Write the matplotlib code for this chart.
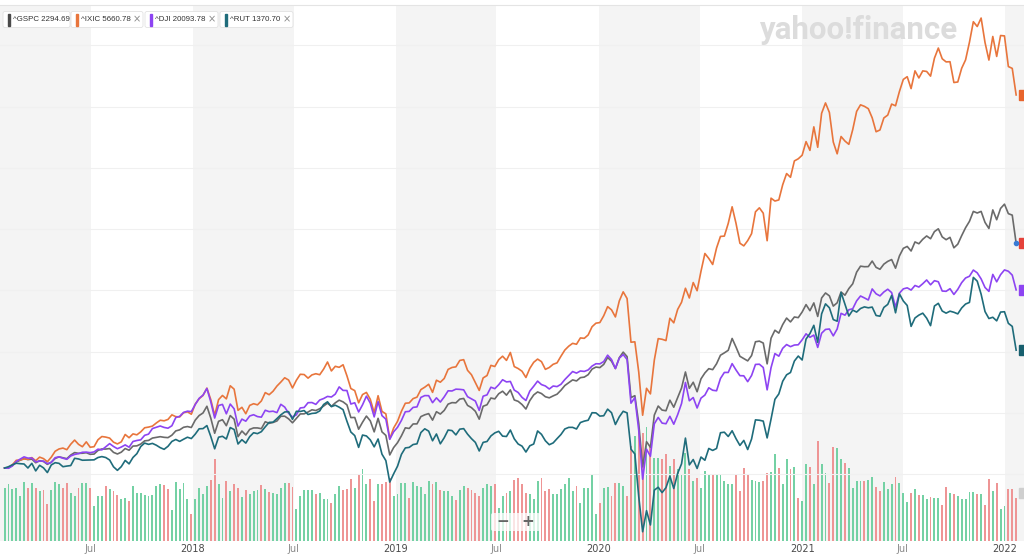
import numpy as np
import pandas as pd
import matplotlib.pyplot as plt
import matplotlib.dates as mdates
import matplotlib.transforms as mtransforms
from matplotlib.patches import FancyBboxPatch, Rectangle

# weekly closes, Jan 27 2017 .. Jan 21 2022
dates = pd.date_range('2017-01-27', periods=261, freq='7D')

gspc = [2294.69, 2297, 2316, 2351, 2367, 2383, 2373, 2378, 2344, 2363, 2356, 2329, 2349, 2384, 2399, 2391, 2382, 2416, 2439, 2432, 2433, 2438, 2423, 2425, 2459, 2473, 2472, 2477, 2441, 2426, 2443, 2477, 2461, 2500, 2502, 2519, 2549, 2553, 2575, 2581, 2588, 2582, 2579, 2602, 2642, 2652, 2676, 2683, 2674,
        2743, 2786, 2810, 2873, 2762, 2620, 2732, 2747, 2691, 2786, 2752, 2588, 2641, 2604, 2656, 2670, 2670, 2663, 2728, 2713, 2721, 2735, 2779, 2780, 2755, 2718, 2760, 2801, 2802, 2819, 2840, 2833, 2850, 2875, 2902, 2872, 2905, 2930, 2914, 2886, 2767, 2768, 2658, 2723, 2781, 2736, 2633, 2760, 2633, 2600, 2417, 2486,
        2532, 2596, 2671, 2665, 2707, 2708, 2776, 2793, 2804, 2743, 2822, 2800, 2834, 2893, 2907, 2905, 2940, 2946, 2881, 2860, 2826, 2752, 2873, 2887, 2950, 2942, 2990, 3014, 2977, 3026, 2932, 2919, 2889, 2847, 2926, 2979, 3007, 2992, 2962, 2952, 2970, 2986, 3023, 3067, 3093, 3120, 3110, 3141, 3146, 3169, 3221, 3240,
        3235, 3265, 3330, 3295, 3226, 3328, 3380, 3338, 2954, 2972, 2711, 2305, 2541, 2489, 2790, 2875, 2837, 2831, 2930, 2864, 2955, 3044, 3194, 3041, 3098, 3009, 3130, 3185, 3225, 3216, 3271, 3351, 3373, 3397, 3508, 3427, 3341, 3319, 3298, 3348, 3477, 3483, 3465, 3270, 3510, 3585, 3558, 3638, 3699, 3663, 3709, 3703, 3756,
        3825, 3768, 3841, 3714, 3887, 3934, 3907, 3811, 3842, 3943, 3913, 3975, 4020, 4129, 4185, 4180, 4181, 4233, 4174, 4156, 4204, 4230, 4247, 4166, 4281, 4352, 4370, 4327, 4412, 4395, 4437, 4468, 4442, 4509, 4535, 4459, 4433, 4455, 4357, 4391, 4471, 4545, 4605, 4698, 4683, 4698, 4595, 4538, 4712, 4620, 4726, 4766,
        4677, 4663, 4400]

ixic = [5660.78, 5667, 5734, 5839, 5845, 5871, 5862, 5901, 5829, 5912, 5878, 5805, 5911, 6048, 6101, 6121, 6084, 6210, 6306, 6208, 6152, 6265, 6140, 6153, 6313, 6388, 6375, 6352, 6257, 6217, 6266, 6435, 6360, 6449, 6427, 6496, 6590, 6606, 6629, 6701, 6764, 6751, 6783, 6889, 6848, 6840, 6937, 6960, 6903,
        7137, 7261, 7336, 7506, 7241, 6875, 7240, 7337, 7258, 7561, 7482, 6993, 7063, 6915, 7107, 7146, 7120, 7210, 7403, 7354, 7434, 7554, 7646, 7746, 7693, 7510, 7688, 7826, 7820, 7737, 7812, 7839, 7816, 7946, 8110, 7903, 8010, 7987, 8046, 7789, 7497, 7449, 7167, 7357, 7407, 7248, 6939, 7331, 6969, 6911, 6333, 6585,
        6739, 6972, 7157, 7165, 7264, 7298, 7472, 7528, 7595, 7408, 7689, 7643, 7729, 7939, 7984, 7998, 8146, 8164, 7917, 7816, 7637, 7453, 7742, 7797, 8032, 8006, 8162, 8244, 8147, 8330, 8004, 7959, 7896, 7752, 7963, 8103, 8177, 8118, 7940, 7983, 8057, 8090, 8243, 8386, 8475, 8541, 8520, 8666, 8657, 8735, 8925, 9007,
        9021, 9179, 9389, 9315, 9151, 9521, 9731, 9577, 8567, 8576, 7875, 6880, 7502, 7373, 8154, 8650, 8635, 8605, 9121, 9015, 9325, 9490, 9814, 9589, 9946, 9757, 10208, 10617, 10503, 10363, 10745, 11011, 11019, 11312, 11696, 11313, 10854, 10793, 10914, 11075, 11580, 11672, 11548, 10912, 11895, 11829, 11855, 12206, 12464, 12378, 12756, 12805, 12888,
        13202, 12999, 13543, 13071, 13856, 14096, 13875, 13192, 12920, 13320, 13215, 13139, 13480, 13900, 14052, 14017, 13963, 13752, 13430, 13471, 13749, 13815, 14069, 14030, 14360, 14639, 14702, 14427, 14837, 14673, 14836, 14823, 14715, 15130, 15364, 15116, 15044, 15048, 14567, 14580, 14897, 15090, 15498, 15972, 15861, 16057, 15492, 15086, 15631, 15170, 15653, 15645,
        14936, 14894, 14280]

dji = [20093.78, 20071, 20269, 20624, 20822, 21006, 20903, 20915, 20597, 20663, 20656, 20453, 20548, 20941, 21007, 20897, 20805, 21080, 21206, 21272, 21384, 21395, 21350, 21414, 21638, 21580, 21830, 22093, 21858, 21675, 21814, 21988, 21798, 22268, 22350, 22405, 22774, 22872, 23329, 23434, 23539, 23422, 23358, 23558, 24232, 24329, 24652, 24754, 24719,
       25296, 25803, 26072, 26617, 25521, 24191, 25219, 25310, 24538, 25336, 24947, 23533, 24103, 23933, 24360, 24463, 24311, 24263, 24831, 24715, 24753, 24635, 25317, 25091, 24581, 24271, 24457, 25019, 25058, 25451, 25463, 25313, 25669, 25790, 25965, 25917, 26155, 26744, 26458, 26447, 25340, 25444, 24688, 25271, 25989, 25413, 24286, 25539, 24389, 24101, 22445, 23062,
       23433, 23996, 24706, 24737, 25064, 25106, 25883, 26032, 26026, 25450, 25849, 25502, 25929, 26425, 26412, 26560, 26543, 26505, 25942, 25764, 25586, 24815, 25984, 26090, 26719, 26600, 26922, 27332, 27154, 27192, 26485, 26287, 25886, 25629, 26403, 26798, 27220, 26935, 26820, 26574, 26817, 26770, 26958, 27347, 27681, 28005, 27876, 28051, 28015, 28135, 28455, 28645,
       28635, 28824, 29348, 28990, 28256, 29103, 29398, 28992, 25409, 25865, 23186, 19174, 21637, 21053, 23719, 24243, 23775, 23724, 24331, 23685, 24465, 25383, 27111, 25606, 25872, 25016, 25827, 26075, 26672, 26470, 26428, 27434, 27931, 27930, 28654, 28133, 27666, 27657, 27174, 27683, 28587, 28606, 28336, 26502, 28323, 29480, 29264, 29910, 30218, 30046, 30179, 30200, 30607,
       31098, 30814, 30997, 29983, 31148, 31458, 31494, 30932, 31496, 32779, 32628, 33073, 33153, 33801, 34201, 34044, 33875, 34778, 34382, 34208, 34530, 34756, 34480, 33290, 34434, 34786, 34870, 34688, 35062, 34936, 35209, 35515, 35120, 35456, 35369, 34608, 34585, 34798, 34327, 34746, 35295, 35677, 35820, 36328, 36100, 35602, 34899, 34580, 35971, 35365, 35951, 36338,
       36232, 35912, 34700]

rut = [1370.70, 1377.8, 1388.8, 1397.3, 1394.8, 1393.1, 1370.7, 1396.8, 1354.3, 1385.9, 1371.5, 1345.2, 1387.8, 1400.4, 1396.7, 1377.9, 1381.5, 1384.3, 1424.9, 1421.3, 1414.2, 1414.8, 1415.4, 1416.3, 1429.3, 1434.5, 1429.3, 1415.4, 1377.3, 1357.6, 1378.4, 1413.2, 1393.8, 1429.6, 1450.8, 1490.9, 1510.2, 1502.9, 1508.3, 1498.2, 1484.6, 1475.2, 1492.1, 1519.2, 1530.3, 1519.5, 1531.6, 1542.9, 1535.5,
       1560, 1590, 1591, 1608, 1547, 1478, 1543, 1548, 1533, 1597, 1586, 1505, 1529, 1510, 1546, 1568, 1563, 1574, 1601, 1626, 1627, 1647, 1668, 1684, 1686, 1643, 1688, 1687, 1692, 1670, 1676, 1678, 1690, 1726, 1741, 1714, 1722, 1711, 1697, 1632, 1572, 1552, 1486, 1555, 1550, 1528, 1489, 1533, 1448, 1412, 1292, 1338,
       1381, 1447, 1483, 1486, 1502, 1506, 1569, 1590, 1577, 1523, 1561, 1506, 1540, 1583, 1580, 1556, 1588, 1591, 1560, 1535, 1514, 1466, 1514, 1519, 1550, 1567, 1576, 1549, 1547, 1583, 1534, 1505, 1493, 1460, 1495, 1505, 1578, 1559, 1523, 1501, 1511, 1535, 1558, 1589, 1598, 1598, 1589, 1625, 1633, 1638, 1680, 1679,
       1661, 1663, 1700, 1680, 1614, 1657, 1688, 1679, 1476, 1449, 1210, 1014, 1132, 1052, 1247, 1263, 1233, 1261, 1325, 1256, 1341, 1394, 1538, 1388, 1418, 1368, 1432, 1414, 1480, 1469, 1480, 1568, 1571, 1547, 1579, 1535, 1497, 1525, 1474, 1533, 1640, 1638, 1633, 1539, 1644, 1755, 1785, 1856, 1892, 1905, 1969, 1997, 1975,
       2092, 2123, 2169, 2074, 2233, 2289, 2267, 2201, 2192, 2353, 2286, 2221, 2254, 2243, 2263, 2272, 2267, 2271, 2224, 2220, 2269, 2286, 2336, 2239, 2345, 2305, 2280, 2163, 2210, 2226, 2237, 2209, 2167, 2277, 2292, 2249, 2237, 2248, 2242, 2233, 2266, 2288, 2297, 2437, 2416, 2343, 2246, 2207, 2214, 2194, 2243, 2245,
       2180, 2163, 2030]

# weekly volume (relative units)
volume = [53, 57, 52, 53, 45, 59, 53, 58, 53, 50, 51, 37, 51, 59, 57, 53, 58, 48, 45, 53, 58, 58, 53, 35, 45, 45, 55, 52, 50, 46,
          42, 43, 40, 55, 48, 48, 46, 45, 46, 55, 57, 56, 52, 31, 59, 52, 58, 42, 27, 42, 53, 47, 55, 61, 82, 57, 43, 60, 50, 57,
          53, 44, 51, 47, 50, 51, 56, 52, 49, 48, 47, 53, 58, 58, 54, 32, 45, 51, 51, 51, 47, 48, 42, 42, 38, 47, 55, 51, 52, 62,
          53, 67, 72, 57, 62, 40, 57, 57, 59, 63, 45, 47, 58, 58, 43, 59, 55, 54, 47, 60, 57, 59, 51, 50, 50, 45, 41, 51, 55, 53,
          51, 48, 45, 53, 57, 55, 57, 33,
          45, 48, 50, 61, 63, 57, 48, 47, 42, 60, 63, 50, 52, 47, 47, 52, 57, 63, 50, 55, 38, 53, 53, 67, 27, 38, 53, 54, 45, 58,
          58, 55, 45, 95,
          105, 112, 108, 114, 94,
          83, 83, 82, 87, 75, 82, 72, 67, 88, 72, 60, 63, 53, 70, 67, 67, 67, 67, 60, 57, 57, 67, 50, 73, 67, 61, 60, 59, 60, 68,
          69, 87, 73, 57, 82, 72, 74, 43, 40, 77, 74, 57, 100, 77, 68, 58, 94, 93, 82, 78, 73, 53, 60, 60, 60, 61, 64, 54, 50, 59,
          52, 57, 64, 58, 48, 39, 48, 52, 46, 46, 42, 44, 43, 43, 36, 54, 48, 47, 45, 42, 42, 49, 49, 47, 47, 36, 62, 50, 58, 32,
          35, 52, 52, 43]

tick_dates = ['2017-07-01', '2018-01-01', '2018-07-01', '2019-01-01', '2019-07-01',
              '2020-01-01', '2020-07-01', '2021-01-01', '2021-07-01', '2022-01-01']
tick_labels = ['Jul', '2018', 'Jul', '2019', 'Jul', '2020', 'Jul', '2021', 'Jul', '2022']

series = [('^GSPC', gspc, '#6a6a6a', '#4a4a4a', '#e5423a'),
          ('^IXIC', ixic, '#e8753c', '#e8753c', '#e8642c'),
          ('^DJI', dji, '#8d44f2', '#8d44f2', '#8d44f2'),
          ('^RUT', rut, '#1f6c7b', '#1f6c7b', '#175f6e')]

W, H = 1024, 557
fig = plt.figure(figsize=(W / 100, H / 100), dpi=100)
axv = fig.add_axes([0, 16 / H, 1, 536 / H])

px_day = 0.5558
x0 = mdates.date2num(pd.Timestamp('2018-01-01')) - 193 / px_day
axv.set_xlim(x0, x0 + W / px_day)

# first half of each year shaded
for yr in range(2017, 2023):
    axv.axvspan(pd.Timestamp(f'{yr}-01-01'), pd.Timestamp(f'{yr}-07-01'),
                color='#f4f4f4', lw=0, zorder=0)

g = np.array(gspc, dtype=float)
up = np.r_[True, g[1:] >= g[:-1]]
bar_cols = np.where(up, '#74d1a4', '#ee9595')
axv.bar(dates, volume, width=3.4, color=bar_cols, zorder=2, linewidth=0)
axv.set_ylim(0, 536)
axv.set_yticks([])

axv.set_xticks(pd.to_datetime(tick_dates))
axv.set_xticklabels(tick_labels)
axv.tick_params(axis='x', length=0, pad=1.8, labelsize=7)
for lab in axv.get_xticklabels():
    lab.set_color('#8a8a8a' if lab.get_text() == 'Jul' else '#4a4a4a')

for s in ['left', 'right', 'bottom']:
    axv.spines[s].set_visible(False)
axv.spines['top'].set_color('#e4e4e4')
axv.spines['top'].set_linewidth(0.8)

ax = axv.twinx()
base, scale = 468, 2.45
ax.set_ylim((base - 541) / scale, (base - 5) / scale)
ax.set_yticks([-2.5 + 25 * k for k in range(8)])
ax.tick_params(axis='y', length=0, labelright=False, right=False)
ax.grid(axis='y', color='#f0f0f0', lw=0.8)
for s in ax.spines.values():
    s.set_visible(False)

tag_tf = mtransforms.blended_transform_factory(ax.transAxes, ax.transData)
for name, vals, col, lcol, tcol in series:
    v = np.array(vals, dtype=float)
    pct = (v / v[0] - 1) * 100
    ax.plot(dates, pct, color=col, lw=1.2, zorder=3, solid_joinstyle='round')
    ax.add_patch(Rectangle((1018.5 / W, pct[-1] - 2.0), 0.01, 4.0, transform=tag_tf,
                           color=tcol, clip_on=False, zorder=5))
    if name == '^GSPC':
        ax.plot(dates[-1:], pct[-1:], 'o', ms=3, color='#3a7bd5', zorder=6)

vtf = mtransforms.blended_transform_factory(axv.transAxes, axv.transData)
axv.add_patch(Rectangle((1018.5 / W, 43), 0.01, 10, transform=vtf, color='#cfcfcf',
                        clip_on=False, zorder=5))

# overlay in pixel coordinates for the chips, watermark and zoom buttons
ov = fig.add_axes([0, 0, 1, 1])
ov.set_xlim(0, W)
ov.set_ylim(H, 0)
ov.axis('off')

chips = [(3, 70, False), (71, 143, True), (145, 218, True), (220, 293, True)]
for (name, vals, col, lcol, tcol), (cx0, cx1, closable) in zip(series, chips):
    ov.add_patch(FancyBboxPatch((cx0, 11.5), cx1 - cx0, 16,
                                boxstyle='round,pad=0,rounding_size=2',
                                fc='white', ec='#e2e2e2', lw=0.6))
    ov.add_patch(Rectangle((cx0 + 4.5, 13.5), 2.2, 12, color=lcol))
    ov.text(cx0 + 10, 19.8, f'{name} {vals[0]:.2f}', fontsize=5.7,
            family='Liberation Sans', color='#333333', va='center', ha='left')
    if closable:
        ov.text(cx1 - 6, 19.6, '×', fontsize=7, color='#8a8a8a', va='center', ha='center')

ov.text(760, 39, 'yahoo!finance', fontsize=22.5, fontweight='bold', family='Roboto',
        color='#dcdcdc', va='baseline', ha='left')

ov.add_patch(FancyBboxPatch((491, 513), 49, 18, boxstyle='round,pad=0,rounding_size=2',
                            fc='white', ec='none', alpha=0.75))
ov.text(503, 522, '−', fontsize=11, color='#666666', fontweight='bold', va='center', ha='center')
ov.text(528, 522, '+', fontsize=11, color='#666666', fontweight='bold', va='center', ha='center')

fig.savefig('out.png', dpi=100)
